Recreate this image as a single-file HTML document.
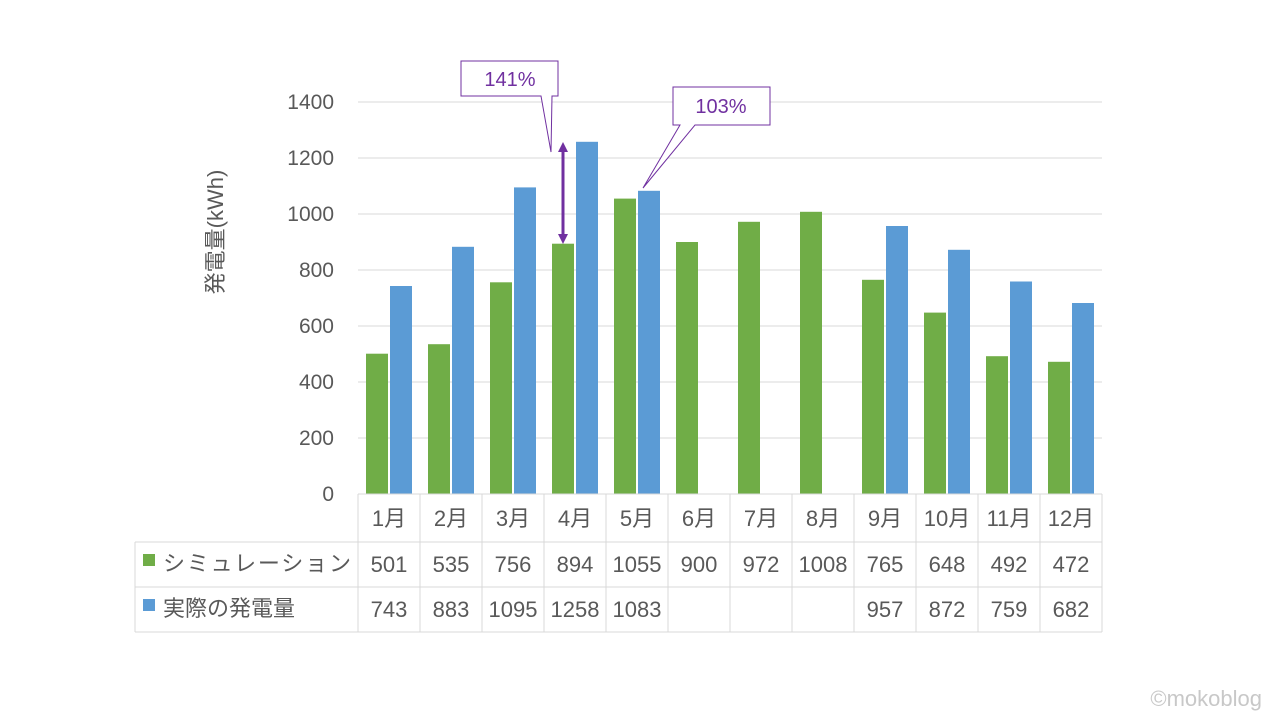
<!DOCTYPE html>
<html><head><meta charset="utf-8"><style>
body{margin:0;background:#fff}
text{font-family:"Liberation Sans","Noto Sans CJK JP",sans-serif;fill:#595959}
</style></head><body>
<svg width="1280" height="720" xmlns="http://www.w3.org/2000/svg">
<g stroke="#d9d9d9" stroke-width="1">
<line x1="358" y1="102" x2="1102" y2="102"/><line x1="358" y1="158" x2="1102" y2="158"/>
<line x1="358" y1="214" x2="1102" y2="214"/><line x1="358" y1="270" x2="1102" y2="270"/>
<line x1="358" y1="326" x2="1102" y2="326"/><line x1="358" y1="382" x2="1102" y2="382"/>
<line x1="358" y1="438" x2="1102" y2="438"/>
</g>
<g font-size="21" text-anchor="end">
<text x="334" y="109">1400</text><text x="334" y="165">1200</text><text x="334" y="221">1000</text>
<text x="334" y="277">800</text><text x="334" y="333">600</text><text x="334" y="389">400</text>
<text x="334" y="445">200</text><text x="334" y="501">0</text>
</g>
<text transform="translate(223,232) rotate(-90)" font-size="22" text-anchor="middle">発電量(kWh)</text>
<g fill="#70AD47">
<rect x="366" y="353.7" width="22" height="140.3"/>
<rect x="428" y="344.2" width="22" height="149.8"/>
<rect x="490" y="282.3" width="22" height="211.7"/>
<rect x="552" y="243.7" width="22" height="250.3"/>
<rect x="614" y="198.6" width="22" height="295.4"/>
<rect x="676" y="242" width="22" height="252"/>
<rect x="738" y="221.8" width="22" height="272.2"/>
<rect x="800" y="211.8" width="22" height="282.2"/>
<rect x="862" y="279.8" width="22" height="214.2"/>
<rect x="924" y="312.6" width="22" height="181.4"/>
<rect x="986" y="356.2" width="22" height="137.8"/>
<rect x="1048" y="361.8" width="22" height="132.2"/>
</g>
<g fill="#5B9BD5">
<rect x="390" y="286" width="22" height="208"/>
<rect x="452" y="246.8" width="22" height="247.2"/>
<rect x="514" y="187.4" width="22" height="306.6"/>
<rect x="576" y="141.8" width="22" height="352.2"/>
<rect x="638" y="190.8" width="22" height="303.2"/>
<rect x="886" y="226" width="22" height="268"/>
<rect x="948" y="249.8" width="22" height="244.2"/>
<rect x="1010" y="281.5" width="22" height="212.5"/>
<rect x="1072" y="303" width="22" height="191"/>
</g>
<g stroke="#d9d9d9" stroke-width="1" fill="none">
<line x1="358" y1="494" x2="1102" y2="494"/>
<line x1="135" y1="542" x2="1102" y2="542"/><line x1="135" y1="587" x2="1102" y2="587"/>
<line x1="135" y1="632" x2="1102" y2="632"/>
<line x1="135" y1="542" x2="135" y2="632"/>
<line x1="358" y1="494" x2="358" y2="632"/><line x1="420" y1="494" x2="420" y2="632"/>
<line x1="482" y1="494" x2="482" y2="632"/><line x1="544" y1="494" x2="544" y2="632"/>
<line x1="606" y1="494" x2="606" y2="632"/><line x1="668" y1="494" x2="668" y2="632"/>
<line x1="730" y1="494" x2="730" y2="632"/><line x1="792" y1="494" x2="792" y2="632"/>
<line x1="854" y1="494" x2="854" y2="632"/><line x1="916" y1="494" x2="916" y2="632"/>
<line x1="978" y1="494" x2="978" y2="632"/><line x1="1040" y1="494" x2="1040" y2="632"/>
<line x1="1102" y1="494" x2="1102" y2="632"/>
</g>
<g font-size="22" text-anchor="middle">
<text x="389" y="526">1月</text><text x="451" y="526">2月</text><text x="513" y="526">3月</text><text x="575" y="526">4月</text>
<text x="637" y="526">5月</text><text x="699" y="526">6月</text><text x="761" y="526">7月</text><text x="823" y="526">8月</text>
<text x="885" y="526">9月</text><text x="947" y="526">10月</text><text x="1009" y="526">11月</text><text x="1071" y="526">12月</text>
<text x="389" y="572">501</text><text x="451" y="572">535</text><text x="513" y="572">756</text><text x="575" y="572">894</text>
<text x="637" y="572">1055</text><text x="699" y="572">900</text><text x="761" y="572">972</text><text x="823" y="572">1008</text>
<text x="885" y="572">765</text><text x="947" y="572">648</text><text x="1009" y="572">492</text><text x="1071" y="572">472</text>
<text x="389" y="617">743</text><text x="451" y="617">883</text><text x="513" y="617">1095</text><text x="575" y="617">1258</text>
<text x="637" y="617">1083</text>
<text x="885" y="617">957</text><text x="947" y="617">872</text><text x="1009" y="617">759</text><text x="1071" y="617">682</text>
</g>
<rect x="143" y="554" width="12" height="12" fill="#70AD47"/>
<rect x="143" y="599" width="12" height="12" fill="#5B9BD5"/>
<text x="163" y="571" font-size="22" textLength="188">シミュレーション</text>
<text x="163" y="616" font-size="22">実際の発電量</text>
<g stroke="#7030A0" stroke-width="1" fill="#fff">
<path d="M461,61 H558 V96 H552 L551,152 L541,96 H461 Z"/>
<path d="M673,87 H770 V125 H695 L643,188 L680,125 H673 Z"/>
</g>
<text x="510" y="86" font-size="20" text-anchor="middle" style="fill:#7030A0">141%</text>
<text x="721" y="113" font-size="20" text-anchor="middle" style="fill:#7030A0">103%</text>
<line x1="563" y1="150" x2="563" y2="236" stroke="#7030A0" stroke-width="3"/>
<path d="M558,152 L563,142 L568,152 Z M558,234 L563,244 L568,234 Z" fill="#7030A0"/>
<text x="1262" y="706" font-size="22" text-anchor="end" style="fill:#c8c8c8">©mokoblog</text>
</svg>
</body></html>
